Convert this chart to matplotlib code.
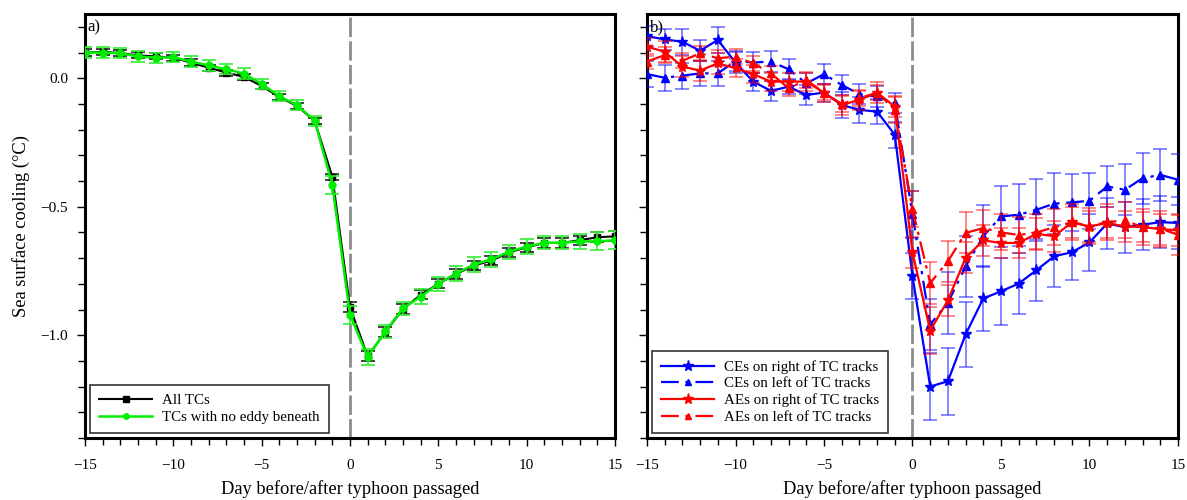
import numpy as np
import matplotlib
matplotlib.use("Agg")
import matplotlib.pyplot as plt
from matplotlib.ticker import MultipleLocator, FuncFormatter
from matplotlib.lines import Line2D

plt.rcParams['font.family'] = ['Liberation Serif', 'DejaVu Serif']

days = list(range(-15, 16))

# Panel a
all_tcs = [0.100, 0.103, 0.098, 0.089, 0.085, 0.080, 0.061, 0.041, 0.022, 0.005,
           -0.030, -0.073, -0.108, -0.166, -0.383,
           -0.891, -1.082, -0.988, -0.898, -0.843, -0.800, -0.762, -0.729, -0.710,
           -0.678, -0.658, -0.641, -0.641, -0.630, -0.619, -0.615]
all_tcs_err = [0.012] * 15 + [0.02, 0.02, 0.02, 0.02, 0.018, 0.018, 0.018, 0.018, 0.018,
                              0.018, 0.018, 0.018, 0.018, 0.018, 0.02, 0.02]
no_eddy = [0.100, 0.100, 0.097, 0.085, 0.080, 0.082, 0.065, 0.050, 0.035, 0.018,
           -0.022, -0.070, -0.105, -0.165, -0.415,
           -0.920, -1.085, -0.985, -0.895, -0.850, -0.800, -0.760, -0.725, -0.705,
           -0.675, -0.655, -0.640, -0.640, -0.635, -0.635, -0.630]
no_eddy_err = [0.02] * 14 + [0.035, 0.035, 0.03, 0.025, 0.025, 0.03, 0.028, 0.028, 0.028,
                              0.028, 0.028, 0.028, 0.025, 0.025, 0.03, 0.035, 0.035]

# Panel b
ce_right = [0.164, 0.151, 0.142, 0.107, 0.149, 0.061, -0.013, -0.049, -0.033, -0.065,
            -0.056, -0.104, -0.123, -0.130, -0.220,
            -0.771, -1.200, -1.179, -0.997, -0.857, -0.829, -0.799, -0.747, -0.693,
            -0.677, -0.639, -0.565, -0.580, -0.570, -0.560, -0.563]
ce_right_err = [0.04, 0.04, 0.05, 0.04, 0.05, 0.04, 0.035, 0.04, 0.03, 0.04,
                0.035, 0.05, 0.05, 0.05, 0.05,
                0.09, 0.13, 0.13, 0.125, 0.125, 0.13, 0.12, 0.12, 0.12,
                0.11, 0.11, 0.10, 0.10, 0.10, 0.10, 0.10]
ce_left = [0.016, 0.002, 0.010, 0.019, 0.019, 0.067, 0.061, 0.065, 0.035, -0.020,
           0.016, -0.026, -0.062, -0.071, -0.097,
           -0.530, -0.958, -0.874, -0.732, -0.615, -0.538, -0.531, -0.512, -0.488,
           -0.483, -0.477, -0.421, -0.434, -0.389, -0.376, -0.395]
ce_left_err = [0.05, 0.05, 0.05, 0.05, 0.05, 0.04, 0.04, 0.04, 0.04, 0.04,
               0.04, 0.04, 0.04, 0.04, 0.04,
               0.09, 0.10, 0.12, 0.12, 0.12, 0.12, 0.12, 0.12, 0.12,
               0.11, 0.11, 0.08, 0.10, 0.10, 0.10, 0.10]
ae_right = [0.123, 0.103, 0.045, 0.030, 0.058, 0.039, 0.016, -0.013, -0.013, -0.013,
            -0.056, -0.104, -0.084, -0.056, -0.110,
            -0.678, -0.982, -0.864, -0.699, -0.631, -0.641, -0.641, -0.605, -0.615,
            -0.561, -0.577, -0.563, -0.577, -0.579, -0.587, -0.592]
ae_right_err = [0.035, 0.04, 0.04, 0.04, 0.04, 0.035, 0.035, 0.035, 0.035, 0.035,
                0.035, 0.04, 0.04, 0.04, 0.04,
                0.06, 0.09, 0.06, 0.06, 0.06, 0.06, 0.06, 0.06, 0.06,
                0.06, 0.06, 0.06, 0.06, 0.06, 0.06, 0.06]
ae_left = [0.065, 0.090, 0.068, 0.097, 0.078, 0.084, 0.058, 0.019, -0.039, -0.007,
           -0.056, -0.100, -0.078, -0.056, -0.123,
           -0.510, -0.797, -0.712, -0.602, -0.583, -0.600, -0.610, -0.600, -0.580,
           -0.560, -0.575, -0.560, -0.553, -0.580, -0.585, -0.609]
ae_left_err = [0.03, 0.03, 0.03, 0.03, 0.03, 0.03, 0.03, 0.03, 0.03, 0.03,
               0.03, 0.03, 0.03, 0.03, 0.05,
               0.07, 0.08, 0.08, 0.08, 0.07, 0.07, 0.07, 0.07, 0.07,
               0.07, 0.07, 0.07, 0.07, 0.07, 0.07, 0.08]

W, H = 1187, 500
fig = plt.figure(figsize=(W / 100, H / 100), dpi=100)
axa = fig.add_axes([85 / W, 62 / H, 530 / W, 424 / H])
axb = fig.add_axes([647 / W, 62 / H, 531 / W, 424 / H])

DASHDOT = (0, (8, 3, 1.5, 3))

for ax in (axa, axb):
    ax.set_xlim(-15, 15)
    ax.set_ylim(-1.4, 0.25)
    ax.axvline(0, color='#8c8c8c', lw=2, ls=(0, (7, 1.5)), zorder=1)
    ax.xaxis.set_major_locator(MultipleLocator(5))
    ax.xaxis.set_minor_locator(MultipleLocator(1))
    ax.yaxis.set_major_locator(MultipleLocator(0.5))
    ax.yaxis.set_minor_locator(MultipleLocator(0.1))
    ax.tick_params(which='both', direction='out', width=1.0, labelsize=11)
    ax.tick_params(which='major', length=6)
    ax.tick_params(which='minor', length=5)
    ax.tick_params(axis='x', which='both', pad=9)
    ax.tick_params(axis='y', which='both', pad=6)
    for s in ax.spines.values():
        s.set_linewidth(2.2)
    ax.set_xlabel('Day before/after typhoon passaged', fontsize=13.3, labelpad=6)
    ax.xaxis.set_major_formatter(FuncFormatter(
        lambda v, p: f'{int(round(v))}'.replace('-', '\u2212')))

axa.yaxis.set_major_formatter(FuncFormatter(
    lambda v, p: f'{v:.1f}'.replace('-', '\u2212')))
axb.tick_params(axis='y', labelleft=False)
axa.set_ylabel('Sea surface cooling (°C)', fontsize=13.3, labelpad=8)

ekw = dict(capsize=5, capthick=1.2, elinewidth=1.2)
axa.errorbar(days, all_tcs, yerr=all_tcs_err, color='black', ecolor='#222222', lw=1.5,
             marker='s', ms=5, zorder=3, **ekw)
axa.errorbar(days, no_eddy, yerr=no_eddy_err, color='#00ee00', ecolor='#33ee33', lw=1.8,
             marker='o', ms=5, zorder=4, **ekw)
ha = [Line2D([], [], color='black', lw=1.5, marker='s', ms=5),
      Line2D([], [], color='#00ee00', lw=1.8, marker='o', ms=4)]
leg = axa.legend(ha, ['All TCs', 'TCs with no eddy beneath'], loc='lower left',
                 frameon=True, fancybox=False, fontsize=10.8, handlelength=3.5,
                 handletextpad=0.7, borderpad=0.6, labelspacing=0.2,
                 borderaxespad=0.35)
leg.get_frame().set_edgecolor('black')
leg.get_frame().set_linewidth(1.2)

ekb = dict(capsize=5, capthick=1.2, elinewidth=1.2)
b1 = axb.errorbar(days, ce_right, yerr=ce_right_err, color='#0000ff', lw=1.6, ls='-',
                  marker='*', ms=8, zorder=3, **ekb)
b2 = axb.errorbar(days, ce_left, yerr=ce_left_err, color='#0000ff', lw=1.6,
                  ls=DASHDOT, marker='^', ms=6, zorder=3, **ekb)
r1 = axb.errorbar(days, ae_right, yerr=ae_right_err, color='#ff0000', lw=1.6, ls='-',
                  marker='*', ms=8, zorder=4, **ekb)
r2 = axb.errorbar(days, ae_left, yerr=ae_left_err, color='#ff0000', lw=1.6,
                  ls=DASHDOT, marker='^', ms=6, zorder=4, **ekb)
for eb in (b1, b2, r1, r2):
    for c in eb[1]:
        c.set_alpha(0.55)
    for c in eb[2]:
        c.set_alpha(0.55)

hb = [Line2D([], [], color='#0000ff', lw=1.6, ls='-', marker='*', ms=8),
      Line2D([], [], color='#0000ff', lw=1.6, ls=DASHDOT, marker='^', ms=5),
      Line2D([], [], color='#ff0000', lw=1.6, ls='-', marker='*', ms=8),
      Line2D([], [], color='#ff0000', lw=1.6, ls=DASHDOT, marker='^', ms=5)]
leg = axb.legend(hb, ['CEs on right of TC tracks', 'CEs on left of TC tracks',
                      'AEs on right of TC tracks', 'AEs on left of TC tracks'],
                 loc='lower left', frameon=True, fancybox=False, fontsize=10.8,
                 handlelength=3.5, handletextpad=0.7, borderpad=0.6,
                 labelspacing=0.2, borderaxespad=0.35)
leg.get_frame().set_edgecolor('black')
leg.get_frame().set_linewidth(1.2)

axa.text(0.005, 0.988, 'a)', transform=axa.transAxes, ha='left', va='top', fontsize=12)
axb.text(0.005, 0.988, 'b)', transform=axb.transAxes, ha='left', va='top', fontsize=12)

fig.savefig('out.png', dpi=100)
